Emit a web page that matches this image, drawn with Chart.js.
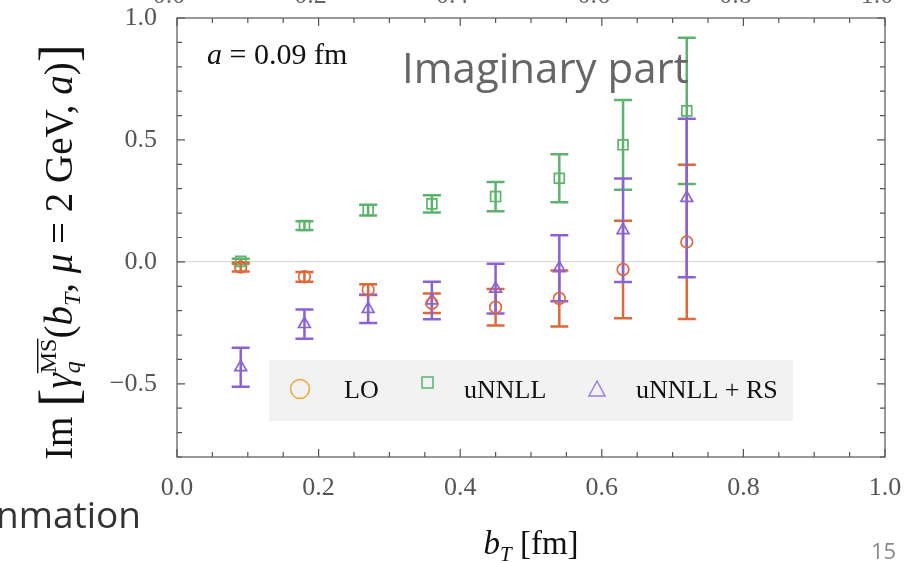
<!DOCTYPE html>
<html>
<head>
<meta charset="utf-8">
<script src="https://cdn.jsdelivr.net/npm/chart.js@4/dist/chart.umd.min.js"></script>
<style>
  html, body { margin: 0; padding: 0; background: #fff; }
  canvas { display: block; }
</style>
</head>
<body>
<canvas id="chart" width="906" height="563"></canvas>
<script>
// b_T values (fm) and Im gamma_q for the three approximations
const bT = [0.09, 0.18, 0.27, 0.36, 0.45, 0.54, 0.63, 0.72];
const lo = [-0.021, -0.061, -0.114, -0.170, -0.186, -0.150, -0.031, 0.082];
const loErr = [0.018, 0.020, 0.022, 0.040, 0.075, 0.115, 0.200, 0.316];
const unnll = [0.002, 0.149, 0.212, 0.238, 0.268, 0.343, 0.480, 0.619];
const unnllErr = [0.011, 0.018, 0.022, 0.035, 0.060, 0.098, 0.184, 0.300];
const rs = [-0.432, -0.255, -0.193, -0.158, -0.110, -0.026, 0.130, 0.262];
const rsErr = [0.080, 0.060, 0.058, 0.077, 0.102, 0.135, 0.212, 0.325];

const xTicks = [0.0, 0.2, 0.4, 0.6, 0.8, 1.0];
const yTicks = [-0.5, 0.0, 0.5, 1.0];
const legendLabels = ['LO', 'uNNLL', 'uNNLL + RS'];

const GREEN = '#5db36d';
const ORANGE = '#df683b';
const PURPLE = '#8a62d5';
const SERIF = '"Liberation Serif", "DejaVu Serif", serif';
const SANS = '"Open Sans", "Noto Sans", sans-serif';

function pts(ys) {
  return bT.map((x, i) => ({ x: x, y: ys[i] }));
}

function fmt(v) {
  return v.toFixed(1).replace('-', '\u2212');
}

// vertical error bars with caps, drawn under the markers
const errorBars = {
  id: 'errorBars',
  beforeDatasetsDraw(chart) {
    const { ctx, scales: { x, y } } = chart;
    const sets = [[unnll, unnllErr, GREEN], [lo, loErr, ORANGE], [rs, rsErr, PURPLE]];
    ctx.save();
    ctx.lineWidth = 2.5;
    sets.forEach(([vals, errs, col]) => {
      ctx.strokeStyle = col;
      ctx.beginPath();
      bT.forEach((b, i) => {
        const px = x.getPixelForValue(b);
        const top = y.getPixelForValue(vals[i] + errs[i]);
        const bot = y.getPixelForValue(vals[i] - errs[i]);
        ctx.moveTo(px, top); ctx.lineTo(px, bot);
        ctx.moveTo(px - 9, top); ctx.lineTo(px + 9, top);
        ctx.moveTo(px - 9, bot); ctx.lineTo(px + 9, bot);
      });
      ctx.stroke();
    });
    ctx.restore();
  }
};

// draws a run of text pieces: [text, font, dy] or {sup, sub, ...}
function richWidth(ctx, parts) {
  let w = 0;
  parts.forEach(p => {
    if (p.stack) {
      ctx.font = p.supFont; const a = ctx.measureText(p.sup).width;
      ctx.font = p.subFont; const b = ctx.measureText(p.sub).width;
      w += Math.max(a, b);
    } else {
      ctx.font = p[1]; w += ctx.measureText(p[0]).width;
    }
  });
  return w;
}
function drawRich(ctx, parts, x0, base) {
  let x = x0;
  ctx.textAlign = 'left';
  ctx.textBaseline = 'alphabetic';
  parts.forEach(p => {
    if (p.stack) {
      ctx.font = p.supFont;
      const a = ctx.measureText(p.sup).width;
      ctx.fillText(p.sup, x, base + p.supDy);
      if (p.overline) {
        ctx.fillRect(x, base + p.supDy - p.overline, a, 1.4);
      }
      ctx.font = p.subFont;
      const b = ctx.measureText(p.sub).width;
      ctx.fillText(p.sub, x, base + p.subDy);
      x += Math.max(a, b);
    } else {
      ctx.font = p[1];
      ctx.fillText(p[0], x, base + (p[2] || 0));
      x += ctx.measureText(p[0]).width;
    }
  });
}

const decorations = {
  id: 'decorations',
  afterDraw(chart) {
    const { ctx, chartArea: a, scales: { x, y } } = chart;
    ctx.save();

    // frame and inward ticks on all four sides
    ctx.strokeStyle = '#555';
    ctx.lineWidth = 1.2;
    ctx.strokeRect(a.left, a.top, a.right - a.left, a.bottom - a.top);
    ctx.beginPath();
    for (let i = 0; i <= 20; i++) {
      const px = x.getPixelForValue(i * 0.05);
      const len = i % 4 === 0 ? 8 : 5;
      ctx.moveTo(px, a.bottom); ctx.lineTo(px, a.bottom - len);
      ctx.moveTo(px, a.top); ctx.lineTo(px, a.top + len);
    }
    for (let i = -8; i <= 10; i++) {
      const py = y.getPixelForValue(i / 10);
      const len = i % 5 === 0 ? 8 : 5;
      ctx.moveTo(a.left, py); ctx.lineTo(a.left + len, py);
      ctx.moveTo(a.right, py); ctx.lineTo(a.right - len, py);
    }
    ctx.stroke();

    // legend box
    ctx.fillStyle = '#f2f2f2';
    ctx.fillRect(269, 360, 524, 61);
    ctx.lineWidth = 1.5;
    ctx.strokeStyle = '#e8a83a';
    ctx.beginPath(); ctx.arc(300, 389, 9.5, 0, Math.PI * 2); ctx.stroke();
    ctx.strokeStyle = '#5cb36b';
    ctx.strokeRect(422, 377, 11, 11);
    ctx.strokeStyle = '#9c7fe0';
    ctx.beginPath();
    ctx.moveTo(597, 381); ctx.lineTo(605, 396); ctx.lineTo(589, 396); ctx.closePath();
    ctx.stroke();
    ctx.fillStyle = '#111';
    ctx.font = '26px ' + SERIF;
    ctx.textAlign = 'left';
    ctx.textBaseline = 'alphabetic';
    ctx.fillText(legendLabels[0], 344, 398);
    ctx.fillText(legendLabels[1], 464, 398);
    ctx.fillText(legendLabels[2], 636, 398);

    // inset label
    drawRich(ctx, [['a', 'italic 30px ' + SERIF], [' = 0.09 fm', '30px ' + SERIF]], 207, 64);

    // slide text
    ctx.fillStyle = '#666';
    ctx.font = '42px ' + SANS;
    ctx.fillText('Imaginary part', 402, 83);
    ctx.fillStyle = '#333';
    ctx.font = '37px ' + SANS;
    ctx.fillText('nmation', -4, 528);
    ctx.fillStyle = '#888';
    ctx.font = '22px ' + SANS;
    ctx.fillText('15', 871, 559);

    // clipped labels of the axis above
    ctx.fillStyle = '#666';
    ctx.font = '26px ' + SERIF;
    ctx.textAlign = 'center';
    xTicks.forEach(v => ctx.fillText(v.toFixed(1), x.getPixelForValue(v) - 8, 3));

    // x axis title
    ctx.fillStyle = '#111';
    const xt = [['b', 'italic 33px ' + SERIF], ['T', 'italic 21px ' + SERIF, 7], [' [fm]', '33px ' + SERIF]];
    drawRich(ctx, xt, (a.left + a.right) / 2 - richWidth(ctx, xt) / 2, 554);

    // y axis title, rotated
    const S = 39, s = 24;
    const yt = [
      ['Im ', S + 'px ' + SERIF],
      ['[', (S * 1.4) + 'px ' + SERIF, 5],
      ['\u03b3', 'italic ' + S + 'px ' + SERIF],
      { stack: true, sup: 'MS', supFont: s + 'px ' + SERIF, supDy: -16, overline: 19,
        sub: 'q', subFont: 'italic ' + s + 'px ' + SERIF, subDy: 8 },
      ['(', S + 'px ' + SERIF],
      ['b', 'italic ' + S + 'px ' + SERIF],
      ['T', 'italic ' + s + 'px ' + SERIF, 8],
      [', ', S + 'px ' + SERIF],
      ['\u03bc', 'italic ' + S + 'px ' + SERIF],
      [' = 2 GeV, ', S + 'px ' + SERIF],
      ['a', 'italic ' + S + 'px ' + SERIF],
      [')', S + 'px ' + SERIF],
      [']', (S * 1.4) + 'px ' + SERIF, 5]
    ];
    ctx.translate(72, 252);
    ctx.rotate(-Math.PI / 2);
    drawRich(ctx, yt, -richWidth(ctx, yt) / 2, 0);
    ctx.restore();
  }
};

new Chart(document.getElementById('chart'), {
  type: 'scatter',
  data: {
    datasets: [
      { label: legendLabels[0], data: pts(lo), pointStyle: 'circle', pointRadius: 5.8,
        borderColor: ORANGE, backgroundColor: 'transparent', pointBorderWidth: 1.7 },
      { label: legendLabels[1], data: pts(unnll), pointStyle: 'rect', pointRadius: 7,
        borderColor: GREEN, backgroundColor: 'transparent', pointBorderWidth: 1.7 },
      { label: legendLabels[2], data: pts(rs), pointStyle: 'triangle', pointRadius: 6.8,
        borderColor: PURPLE, backgroundColor: 'transparent', pointBorderWidth: 1.7 }
    ]
  },
  options: {
    responsive: false,
    animation: false,
    layout: { padding: { top: 18, right: 21, left: 0, bottom: 0 } },
    plugins: { legend: { display: false }, tooltip: { enabled: false } },
    scales: {
      x: {
        min: 0, max: 1,
        afterBuildTicks: s => { s.ticks = xTicks.map(v => ({ value: v })); },
        afterFit: s => { s.height = 106; s.paddingLeft = 0; s.paddingRight = 0; },
        ticks: { callback: v => fmt(v), color: '#555', padding: 16, font: { family: SERIF, size: 26 } },
        grid: { drawOnChartArea: false, drawTicks: false },
        border: { display: false }
      },
      y: {
        min: -0.8, max: 1.0,
        afterBuildTicks: s => { s.ticks = yTicks.map(v => ({ value: v })); },
        afterFit: s => { s.width = 177; s.paddingTop = 0; s.paddingBottom = 0; },
        ticks: { callback: v => fmt(v), color: '#555', padding: 20, font: { family: SERIF, size: 26 } },
        grid: { drawTicks: false, color: c => (c.tick && c.tick.value === 0 ? '#dcdcdc' : 'rgba(0,0,0,0)'), lineWidth: 1.2 },
        border: { display: false }
      }
    }
  },
  plugins: [errorBars, decorations]
});
</script>
</body>
</html>
